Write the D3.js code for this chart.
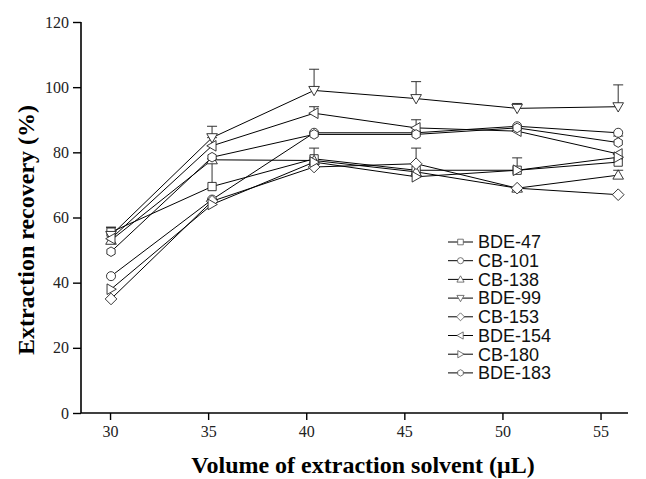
<!DOCTYPE html>
<html>
<head>
<meta charset="utf-8">
<script src="https://cdn.jsdelivr.net/npm/d3@7"></script>
<style>
  body { margin: 0; background: #fff; }
  svg { display: block; }
</style>
</head>
<body>
<svg id="chart" width="646" height="479"></svg>
<script>
// x positions of the measured points, as they sit against the axis
const volumes = [30.05, 35.2, 40.4, 45.6, 50.75, 55.9];
const xTicks = [30, 35, 40, 45, 50, 55];
const yTicks = [0, 20, 40, 60, 80, 100, 120];

const names = ["BDE-47", "CB-101", "CB-138", "BDE-99", "CB-153", "BDE-154", "CB-180", "BDE-183"];
const shapes = ["square", "circle", "up", "down", "diamond", "left", "right", "hexagon"];

const bde47 = [55.5, 69.5, 78, 74.5, 74.5, 77];
const cb101 = [42, 65.5, 86, 86, 88, 86];
const cb138 = [53, 77.7, 77.5, 74, 69, 73];
const bde99 = [54.5, 84.5, 99, 96.5, 93.5, 94];
const cb153 = [35, 65, 75.5, 76.5, 69, 67];
const bde154 = [53.5, 82, 92, 87.5, 86.5, 79.5];
const cb180 = [38, 64, 77, 72.5, 74.5, 78.5];
const bde183 = [49.5, 78.5, 85.5, 85.5, 87.5, 83];

// upper error bars (0 = none drawn)
const err47 = [1.5, 8.5, 3.3, 0, 3.8, 0];
const err101 = [0, 0, 0, 0, 0, 0];
const err138 = [0, 0, 0, 0, 0, 1.5];
const err99 = [2.5, 3.5, 6.5, 5.2, 1.5, 6.7];
const err153 = [0, 0, 0, 4.8, 0, 0];
const err154 = [0, 2.5, 2, 2.5, 0, 0];
const err180 = [0, 0, 0, 0, 0, 0];
const err183 = [0, 0, 0, 0, 0, 2];

const seriesValues = [bde47, cb101, cb138, bde99, cb153, bde154, cb180, bde183];
const seriesErrors = [err47, err101, err138, err99, err153, err154, err180, err183];

const svg = d3.select("#chart");

const x = d3.scaleLinear().domain([28.52, 56.4]).range([81, 628]);
const y = d3.scaleLinear().domain([0, 120]).range([413, 22]);

// marker path for a given shape, centred at 0,0
function markerPath(shape, r) {
  const p = d3.path();
  if (shape === "circle") {
    p.arc(0, 0, r * 0.85, 0, 2 * Math.PI);
    return p.toString();
  }
  let pts;
  const h = r * 0.78;
  if (shape === "square") pts = [[-h, -h], [h, -h], [h, h], [-h, h]];
  else if (shape === "up") pts = [[0, -r], [r, r * 0.75], [-r, r * 0.75]];
  else if (shape === "down") pts = [[0, r], [r, -r * 0.75], [-r, -r * 0.75]];
  else if (shape === "left") pts = [[-r, 0], [r * 0.75, -r], [r * 0.75, r]];
  else if (shape === "right") pts = [[r, 0], [-r * 0.75, -r], [-r * 0.75, r]];
  else if (shape === "diamond") pts = [[0, -r * 1.1], [r * 1.1, 0], [0, r * 1.1], [-r * 1.1, 0]];
  else if (shape === "hexagon") pts = d3.range(6).map(i => [r * 0.9 * Math.cos(Math.PI / 6 + i * Math.PI / 3), r * 0.9 * Math.sin(Math.PI / 6 + i * Math.PI / 3)]);
  p.moveTo(pts[0][0], pts[0][1]);
  pts.slice(1).forEach(q => p.lineTo(q[0], q[1]));
  p.closePath();
  return p.toString();
}

// axes
const xAxis = svg.append("g")
  .attr("transform", "translate(0,413)")
  .call(d3.axisBottom(x).tickValues(xTicks).tickSize(7).tickSizeOuter(0).tickPadding(6));
const yAxis = svg.append("g")
  .attr("transform", "translate(81,0)")
  .call(d3.axisLeft(y).tickValues(yTicks).tickSize(8).tickSizeOuter(0).tickPadding(4));

[xAxis, yAxis].forEach(a => {
  a.select(".domain").attr("stroke", "#000").attr("stroke-width", 1.6);
  a.selectAll(".tick line").attr("stroke", "#000").attr("stroke-width", 1.4);
  a.selectAll(".tick text")
    .attr("font-family", "'Liberation Serif', 'Times New Roman', serif")
    .attr("font-size", 16)
    .attr("fill", "#222");
});
xAxis.select(".domain").attr("d", "M81,0H628");
yAxis.select(".domain").attr("d", "M0,413V22");

// axis titles
svg.append("text")
  .attr("x", 363).attr("y", 473)
  .attr("text-anchor", "middle")
  .attr("font-family", "'Liberation Serif', 'Times New Roman', serif")
  .attr("font-weight", "bold")
  .attr("font-size", 24)
  .text("Volume of extraction solvent (\u03bcL)");

svg.append("text")
  .attr("transform", "translate(34,230) rotate(-90)")
  .attr("text-anchor", "middle")
  .attr("font-family", "'Liberation Serif', 'Times New Roman', serif")
  .attr("font-weight", "bold")
  .attr("font-size", 24)
  .text("Extraction recovery (%)");

const plot = svg.append("g");
const line = d3.line().x((d, i) => x(volumes[i])).y(d => y(d));

// lines
plot.selectAll("path.series")
  .data(seriesValues)
  .join("path")
  .attr("class", "series")
  .attr("d", d => line(d))
  .attr("fill", "none")
  .attr("stroke", "#000")
  .attr("stroke-width", 1);

// error bars
seriesValues.forEach((vals, s) => {
  const errs = seriesErrors[s];
  const g = plot.append("g");
  vals.forEach((v, i) => {
    if (!errs[i]) return;
    const cx = x(volumes[i]);
    g.append("line")
      .attr("x1", cx).attr("x2", cx)
      .attr("y1", y(v)).attr("y2", y(v + errs[i]))
      .attr("stroke", "#333").attr("stroke-width", 1);
    g.append("line")
      .attr("x1", cx - 5).attr("x2", cx + 5)
      .attr("y1", y(v + errs[i])).attr("y2", y(v + errs[i]))
      .attr("stroke", "#333").attr("stroke-width", 1);
  });
});

// markers
seriesValues.forEach((vals, s) => {
  plot.append("g")
    .selectAll("path")
    .data(vals)
    .join("path")
    .attr("transform", (d, i) => `translate(${x(volumes[i])},${y(d)})`)
    .attr("d", markerPath(shapes[s], 5.3))
    .attr("fill", "#fff")
    .attr("stroke", "#222")
    .attr("stroke-width", 0.9);
});

// legend
const legend = svg.append("g").attr("transform", "translate(448,242)");
const rowH = 18.7;
names.forEach((name, i) => {
  const row = legend.append("g").attr("transform", `translate(0,${i * rowH})`);
  row.append("line").attr("x1", 0).attr("x2", 25).attr("y1", 0).attr("y2", 0)
    .attr("stroke", "#000").attr("stroke-width", 1);
  row.append("path")
    .attr("transform", "translate(12.5,0)")
    .attr("d", markerPath(shapes[i], 3.6))
    .attr("fill", "#fff")
    .attr("stroke", "#555")
    .attr("stroke-width", 0.8);
  row.append("text")
    .attr("x", 30).attr("y", 0)
    .attr("dy", "0.35em")
    .attr("font-family", "'Liberation Sans', Arial, sans-serif")
    .attr("font-size", 18)
    .attr("fill", "#111")
    .text(name);
});
</script>
</body>
</html>
